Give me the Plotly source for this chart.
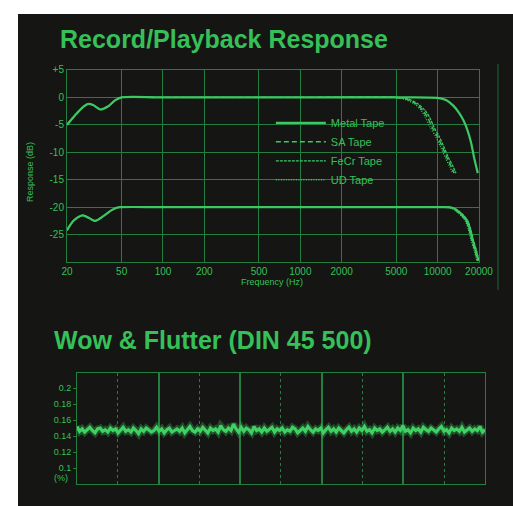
import plotly.graph_objects as go

# ---------------- data: Record/Playback Response ----------------
metal_hi_f = [20, 23, 26, 28.5, 31, 35, 40, 45, 50, 100, 1000, 5000, 10000, 11600, 13000, 14400, 15500, 16500, 17500, 18400, 19600]
metal_hi_r = [-5, -3.2, -1.8, -1.2, -1.4, -2.2, -1.6, -0.5, 0, 0, 0, 0, -0.1, -0.5, -1.5, -2.9, -4.3, -6.0, -8.2, -10.9, -13.8]

sa_hi_f = [20, 23, 26, 28.5, 31, 35, 40, 45, 50, 100, 1000, 5000, 5900, 7000, 7800, 8500, 9100, 10000, 10800, 11700, 12600, 13200]
sa_hi_r = [-5, -3.2, -1.8, -1.2, -1.4, -2.2, -1.6, -0.5, 0, 0, 0, 0, -0.3, -1.2, -2.4, -3.8, -5.4, -7.2, -9.0, -11.0, -12.7, -13.8]

fecr_hi_f = [20, 23, 26, 28.5, 31, 35, 40, 45, 50, 100, 1000, 5000, 6100, 7200, 8100, 8800, 9400, 10300, 11100, 12000, 13000, 13600]
fecr_hi_r = [-5, -3.2, -1.8, -1.2, -1.4, -2.2, -1.6, -0.5, 0, 0, 0, 0, -0.3, -1.2, -2.4, -3.8, -5.4, -7.2, -9.0, -11.0, -12.7, -13.8]

ud_hi_f = [20, 23, 26, 28.5, 31, 35, 40, 45, 50, 100, 1000, 5000, 5700, 6800, 7600, 8200, 8800, 9700, 10500, 11400, 12300, 12900]
ud_hi_r = [-5, -3.2, -1.8, -1.2, -1.4, -2.2, -1.6, -0.5, 0, 0, 0, 0, -0.3, -1.2, -2.4, -3.8, -5.4, -7.2, -9.0, -11.0, -12.7, -13.8]

metal_lo_f = [20, 22.5, 26, 29, 32, 37, 42, 46, 50, 100, 1000, 5000, 10000, 12800, 14500, 16300, 17200, 18000, 19000, 19800]
metal_lo_r = [-24.2, -22.4, -21.5, -22.0, -22.5, -21.6, -20.6, -20.1, -20, -20, -20, -20, -20, -20.1, -21.0, -22.4, -24.0, -26.0, -28.0, -29.8]

sa_lo_f = [20, 22.5, 26, 29, 32, 37, 42, 46, 50, 100, 1000, 5000, 10000, 12500, 14200, 16000, 16900, 17700, 18700, 19500]
sa_lo_r = [-24.2, -22.4, -21.5, -22.0, -22.5, -21.6, -20.6, -20.1, -20, -20, -20, -20, -20, -20.1, -21.0, -22.4, -24.0, -26.0, -28.0, -29.8]

fecr_lo_f = [20, 22.5, 26, 29, 32, 37, 42, 46, 50, 100, 1000, 5000, 10000, 12900, 14700, 16500, 17400, 18200, 19200, 20000]
fecr_lo_r = [-24.2, -22.4, -21.5, -22.0, -22.5, -21.6, -20.6, -20.1, -20, -20, -20, -20, -20, -20.1, -21.0, -22.4, -24.0, -26.0, -28.0, -29.8]

ud_lo_f = [20, 22.5, 26, 29, 32, 37, 42, 46, 50, 100, 1000, 5000, 10000, 12300, 14000, 15800, 16700, 17500, 18500, 19300]
ud_lo_r = [-24.2, -22.4, -21.5, -22.0, -22.5, -21.6, -20.6, -20.1, -20, -20, -20, -20, -20, -20.1, -21.0, -22.4, -24.0, -26.0, -28.0, -29.8]

freq_ticks = [20, 50, 100, 200, 500, 1000, 2000, 5000, 10000, 20000]
freq_labels = ["20", "50", "100", "200", "500", "1000", "2000", "5000", "10000", "20000"]
resp_ticks = [5, 0, -5, -10, -15, -20, -25]
resp_labels = ["+5", "0", "-5", "-10", "-15", "-20", "-25"]

# ---------------- data: Wow & Flutter ----------------
wf_values = [
    0.152, 0.146, 0.149, 0.145, 0.148, 0.151, 0.147, 0.144, 0.149, 0.150, 0.146, 0.148, 0.145, 0.150, 0.147, 0.149, 0.144, 0.148, 0.151, 0.146,
    0.148, 0.145, 0.150, 0.147, 0.143, 0.149, 0.146, 0.150, 0.148, 0.145, 0.147, 0.151, 0.146, 0.149, 0.144, 0.148, 0.150, 0.145, 0.147, 0.149,
    0.146, 0.150, 0.144, 0.148, 0.152, 0.147, 0.145, 0.149, 0.146, 0.151, 0.148, 0.144, 0.150, 0.147, 0.149, 0.145, 0.153, 0.148, 0.146, 0.150,
    0.147, 0.155, 0.149, 0.145, 0.151, 0.146, 0.150, 0.148, 0.144, 0.152, 0.147, 0.149, 0.145, 0.150, 0.146, 0.148, 0.151, 0.145, 0.149, 0.147,
    0.150, 0.145, 0.148, 0.146, 0.151, 0.149, 0.144, 0.147, 0.150, 0.146, 0.152, 0.148, 0.145, 0.149, 0.147, 0.150, 0.144, 0.148, 0.151, 0.146,
    0.149, 0.145, 0.150, 0.147, 0.144, 0.148, 0.151, 0.146, 0.149, 0.145, 0.150, 0.147, 0.152, 0.146, 0.148, 0.144, 0.150, 0.147, 0.149, 0.145,
    0.148, 0.151, 0.146, 0.149, 0.145, 0.150, 0.147, 0.153, 0.146, 0.148, 0.144, 0.150, 0.147, 0.149, 0.145, 0.151, 0.148, 0.146, 0.150, 0.147,
    0.145, 0.149, 0.152, 0.146, 0.148, 0.144, 0.150, 0.147, 0.149, 0.146, 0.151, 0.145, 0.148, 0.150, 0.146, 0.149, 0.147, 0.152, 0.145, 0.148,
]
wf_ticks = [0.2, 0.18, 0.16, 0.14, 0.12, 0.1]
wf_labels = ["0.2", "0.18", "0.16", "0.14", "0.12", "0.1"]

# ---------------- styling ----------------
BG = "#151513"
GREEN = "#3cc862"
TEXT = "#36c058"
GRID = "#237f3f"
FONT = "Liberation Sans"

fig = go.Figure()

styles = [
    ("Metal Tape", metal_hi_f, metal_hi_r, metal_lo_f, metal_lo_r, "solid", 2.2),
    ("SA Tape", sa_hi_f, sa_hi_r, sa_lo_f, sa_lo_r, "5px,3px", 1.4),
    ("FeCr Tape", fecr_hi_f, fecr_hi_r, fecr_lo_f, fecr_lo_r, "3px,1px", 1.3),
    ("UD Tape", ud_hi_f, ud_hi_r, ud_lo_f, ud_lo_r, "1px,1.5px", 1.4),
]
for name, fh, rh, fl, rl, dash, w in styles:
    fig.add_trace(go.Scatter(x=fh, y=rh, mode="lines", name=name, line=dict(color=GREEN, width=w, dash=dash, shape="spline", smoothing=0.8), xaxis="x", yaxis="y", showlegend=True, legendgroup=name))
    fig.add_trace(go.Scatter(x=fl, y=rl, mode="lines", name=name, line=dict(color=GREEN, width=w, dash=dash, shape="spline", smoothing=0.8), xaxis="x", yaxis="y", showlegend=False, legendgroup=name))

wf_x = list(range(len(wf_values)))
fig.add_trace(go.Scatter(x=wf_x, y=wf_values, mode="lines", line=dict(color="#3fcf62", width=7), opacity=0.3, xaxis="x2", yaxis="y2", showlegend=False, hoverinfo="skip"))
fig.add_trace(go.Scatter(x=wf_x, y=wf_values, mode="lines", line=dict(color="#40d063", width=3.2), xaxis="x2", yaxis="y2", showlegend=False))

tickfont = dict(family=FONT, size=10, color=TEXT)
fig.update_layout(
    template="none",
    width=513, height=506,
    margin=dict(l=0, r=0, t=0, b=0, pad=0, autoexpand=False),
    paper_bgcolor=BG, plot_bgcolor=BG,
    xaxis=dict(type="log", domain=[0.1306, 0.9337], anchor="y", range=[1.30103, 4.30103], automargin=False,
               tickvals=freq_ticks, ticktext=freq_labels, tickfont=tickfont,
               showgrid=True, gridcolor=GRID, gridwidth=1, showline=True, linecolor=GRID, linewidth=1, mirror=True,
               zeroline=False, ticks=""),
    yaxis=dict(domain=[0.4822, 0.8617], anchor="x", range=[-30, 5], automargin=False,
               tickvals=resp_ticks, ticktext=resp_labels, tickfont=tickfont,
               showgrid=True, gridcolor=GRID, gridwidth=1, showline=True, linecolor=GRID, linewidth=1, mirror=True,
               zeroline=False, ticks=""),
    xaxis2=dict(domain=[0.1501, 0.9454], anchor="y2", range=[0, len(wf_values) - 1], automargin=False,
                dtick=(len(wf_values) - 1) / 5, tick0=0, showticklabels=False,
                showgrid=True, gridcolor=GRID, gridwidth=1.5,
                minor=dict(dtick=(len(wf_values) - 1) / 10, tick0=0, showgrid=True, gridcolor=GRID, gridwidth=1, griddash="dot"),
                showline=True, linecolor=GRID, linewidth=1, mirror=True, zeroline=False, ticks=""),
    yaxis2=dict(domain=[0.0435, 0.2628], anchor="x2", range=[0.080, 0.219], automargin=False,
                tickvals=wf_ticks, ticktext=wf_labels, tickfont=dict(family=FONT, size=9, color=TEXT),
                showgrid=False, showline=True, linecolor=GRID, linewidth=1, mirror=True, zeroline=False,
                ticks="outside", ticklen=3, tickcolor=GRID),
    legend=dict(x=0.528, y=0.786, xanchor="left", yanchor="top", bgcolor="rgba(0,0,0,0)",
                font=dict(family=FONT, size=11, color=TEXT), itemwidth=50, tracegroupgap=0),
    showlegend=True,
)

annotations = [
    dict(text="<b>Record/Playback Response</b>", x=58 / 513, y=1 - 39 / 506, xref="paper", yref="paper",
         xanchor="left", yanchor="middle", showarrow=False, font=dict(family=FONT, size=25, color=TEXT)),
    dict(text="<b>Wow &amp; Flutter (DIN 45 500)</b>", x=52 / 513, y=1 - 340 / 506, xref="paper", yref="paper",
         xanchor="left", yanchor="middle", showarrow=False, font=dict(family=FONT, size=25, color=TEXT)),
    dict(text="Response (dB)", x=30 / 513, y=1 - 172 / 506, xref="paper", yref="paper", textangle=-90,
         xanchor="center", yanchor="middle", showarrow=False, font=dict(family=FONT, size=9, color=TEXT)),
    dict(text="Frequency (Hz)", x=272 / 513, y=1 - 282 / 506, xref="paper", yref="paper",
         xanchor="center", yanchor="middle", showarrow=False, font=dict(family=FONT, size=9, color=TEXT)),
    dict(text="(%)", x=0, y=0.1, xref="x2 domain", yref="y2", xanchor="right", yanchor="middle", xshift=-7, yshift=-10,
         showarrow=False, font=dict(family=FONT, size=9, color=TEXT)),
]
fig.update_layout(annotations=annotations)

fig.update_layout(shapes=[
    dict(type="rect", xref="paper", yref="paper", x0=0, x1=18 / 513, y0=0, y1=1, fillcolor="white", line=dict(width=0), layer="above"),
    dict(type="rect", xref="paper", yref="paper", x0=0, x1=1, y0=1 - 14 / 506, y1=1, fillcolor="white", line=dict(width=0), layer="above"),
    dict(type="line", xref="paper", yref="paper", x0=498 / 513, x1=498 / 513, y0=1 - 290 / 506, y1=1 - 64 / 506, line=dict(color="#1d6a35", width=1)),
])

fig.write_html("out.html", config={"displayModeBar": False},
               post_script="document.body.style.margin='0';document.body.style.overflow='hidden';")
